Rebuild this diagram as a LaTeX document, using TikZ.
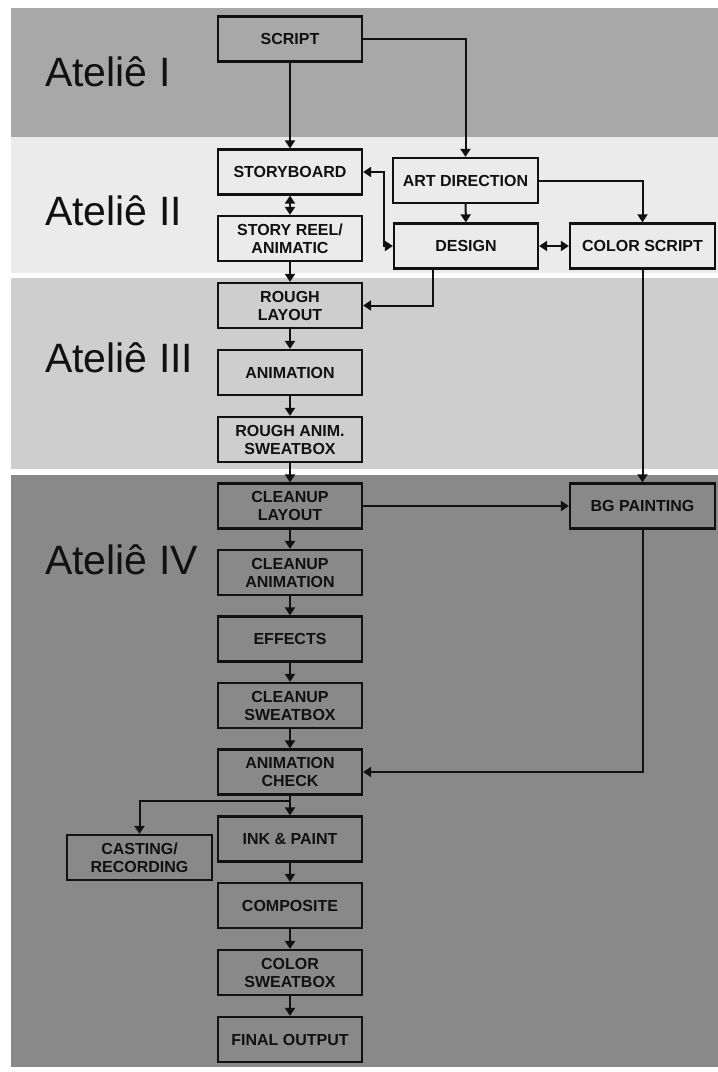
\documentclass[tikz,border=0pt]{standalone}
\usepackage{fontspec}
\setmainfont{Liberation Sans}
\usetikzlibrary{arrows.meta}
\definecolor{bandI}{HTML}{A8A8A8}
\definecolor{bandII}{HTML}{EBEBEB}
\definecolor{bandIII}{HTML}{CECECE}
\definecolor{bandIV}{HTML}{898989}
\definecolor{ink}{HTML}{111111}
\tikzset{
  box/.style={draw=ink, line width=2.2pt, minimum width=144pt, minimum height=45pt,
    inner sep=0pt, align=center, text=ink, font=\fontsize{16}{18}\selectfont\bfseries},
  tip/.tip={Triangle[width=10pt,length=8pt]},
  conn/.style={draw=ink, line width=2pt, -tip},
  dbl/.style={draw=ink, line width=2pt, tip-tip},
  atelie/.style={anchor=base west, inner sep=0pt, text=ink, font=\fontsize{41}{48}\selectfont}
}
\begin{document}
\begin{tikzpicture}[x=1pt,y=-1pt]
\useasboundingbox (0,0) rectangle (718,1072);
\fill[white] (0,0) rectangle (718,1072);
\fill[bandI] (11,8) rectangle (718,137);
\fill[bandII] (11,137) rectangle (718,273);
\fill[bandIII] (11,278) rectangle (718,469);
\fill[bandIV] (11,475) rectangle (718,1067);

\node[atelie] (l1) at (45,86) {Ateliê I};
\node[atelie] (l2) at (45,225) {Ateliê II};
\node[atelie] (l3) at (45,372) {Ateliê III};
\node[atelie] (l4) at (45,574) {Ateliê IV};

\node[box] (script) at (290,39) {SCRIPT};
\node[box] (sb) at (290,172) {STORYBOARD};
\node[box, minimum width=145pt] (art) at (465.5,180.5) {ART DIRECTION};
\node[box] (reel) at (290,238.5) {STORY REEL/\\ANIMATIC};
\node[box] (des) at (466,246) {DESIGN};
\node[box, minimum width=145pt] (cs) at (642.5,246) {COLOR SCRIPT};
\node[box] (rl) at (290,305.5) {ROUGH\\LAYOUT};
\node[box] (anim) at (290,372.5) {ANIMATION};
\node[box] (ras) at (290,439.5) {ROUGH ANIM.\\SWEATBOX};
\node[box] (cl) at (290,506) {CLEANUP\\LAYOUT};
\node[box, minimum width=145pt] (bg) at (642.5,506) {BG PAINTING};
\node[box] (ca) at (290,572.5) {CLEANUP\\ANIMATION};
\node[box] (eff) at (290,639) {EFFECTS};
\node[box] (csw) at (290,705.5) {CLEANUP\\SWEATBOX};
\node[box] (ac) at (290,772) {ANIMATION\\CHECK};
\node[box] (ink) at (290,839) {INK \& PAINT};
\node[box, minimum width=145pt] (cast) at (139.5,857.5) {CASTING/\\RECORDING};
\node[box] (comp) at (290,905.5) {COMPOSITE};
\node[box] (colsw) at (290,972.5) {COLOR\\SWEATBOX};
\node[box] (fin) at (290,1039.5) {FINAL OUTPUT};

\draw[conn] (script) -- (sb);
\draw[conn] (script.east) -| (art.north);
\draw[dbl] (sb) -- (reel);
\draw[dbl] (sb.east) -- ++(21,0) |- (des.west);
\draw[conn] (art) -- (des);
\draw[conn] (art.east) -| (cs.north);
\draw[dbl] (des) -- (cs);
\draw[conn] (reel) -- (rl);
\draw[conn] ([xshift=-33pt]des.south) |- (rl.east);
\draw[conn] (rl) -- (anim);
\draw[conn] (anim) -- (ras);
\draw[conn] (ras) -- (cl);
\draw[conn] (cs) -- (bg);
\draw[conn] (cl) -- (bg);
\draw[conn] (cl) -- (ca);
\draw[conn] (ca) -- (eff);
\draw[conn] (eff) -- (csw);
\draw[conn] (csw) -- (ac);
\draw[conn] (bg.south) |- (ac.east);
\draw[conn] (ac) -- (ink);
\draw[conn] (ac.south) -- ++(0,5) -| (cast.north);
\draw[conn] (ink) -- (comp);
\draw[conn] (comp) -- (colsw);
\draw[conn] (colsw) -- (fin);
\end{tikzpicture}
\end{document}
